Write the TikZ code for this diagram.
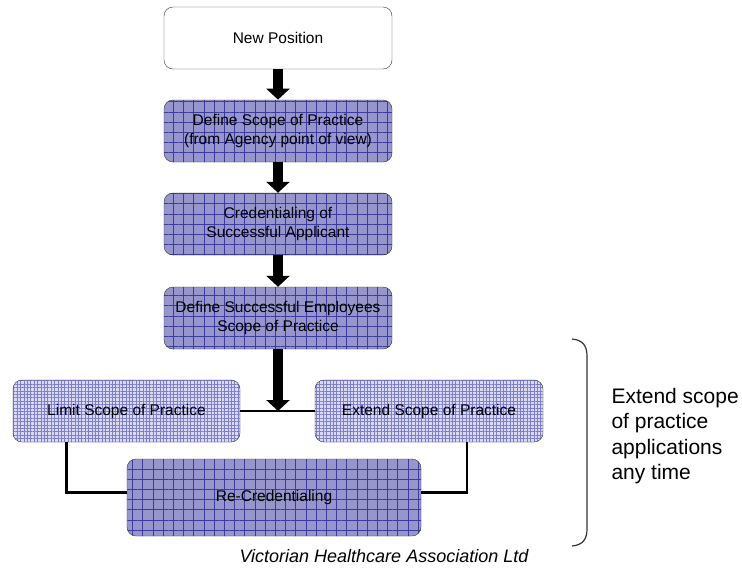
\documentclass[tikz,border=0pt]{standalone}
\usepackage{fontspec}
\setmainfont{Liberation Sans}
\usetikzlibrary{arrows.meta,patterns.meta}
\definecolor{gridfill}{RGB}{150,150,205}
\definecolor{gridline}{RGB}{60,60,160}
\definecolor{finefill}{RGB}{218,218,242}
\definecolor{fineline}{RGB}{125,125,205}

\begin{document}
\begin{tikzpicture}[x=1pt, y=-1pt,
        box/.style={draw=black!80, rounded corners=9pt, minimum width=228pt, minimum height=62pt,
            align=center, font=\fontsize{15.5}{19}\selectfont},
        gridbox/.style={box, preaction={fill=gridfill},
            pattern={Hatch[distance=10.2pt, angle=0, line width=0.7pt]}, pattern color=gridline},
        finebox/.style={box, preaction={fill=finefill},
            pattern={Hatch[distance=3.4pt, angle=0, line width=0.5pt]}, pattern color=fineline},
        bigarrow/.style={line width=10pt, -{Triangle[length=11pt, width=23pt]}},
        link/.style={line width=2.8pt}]
        \useasboundingbox (0, 0) rectangle (742, 571);

        \node[box, fill=white] (newpos) at (278, 38) {New Position};
        \node[gridbox] (agency) at (278, 131) {Define Scope of Practice\\(from Agency point of view)};
        \node[gridbox] (cred) at (278, 224) {Credentialing of\\Successful Applicant};
        \node[gridbox] (employee) at (278, 318) {Define Successful Employees\\Scope of Practice};
        \node[finebox, minimum width=227pt] (limit) at (126.5, 411) {Limit Scope of Practice};
        \node[finebox] (extend) at (429, 411) {Extend Scope of Practice};
        \node[gridbox, minimum width=294pt, minimum height=77pt] (recred) at (274, 497.5) {Re-Credentialing};

        \draw[bigarrow] (newpos) -- (agency);
        \draw[bigarrow] (agency) -- (cred);
        \draw[bigarrow] (cred) -- (employee);

        \coordinate (join) at (employee.south |- limit.east);
        \draw[link] (limit.east) -- (extend.west);
        \draw[bigarrow] (employee.south) -- (join);
        \draw[link] ([xshift=-60pt]limit.south) |- ([yshift=5pt]recred.west);
        \draw[link] ([xshift=38pt]extend.south) |- ([yshift=5pt]recred.east);

        % bracket on the right
        \draw[line width=1.2pt, black!80] (572, 339) .. controls (583, 340) and (587, 346) .. (587, 356)
            -- (587, 529) .. controls (587, 539) and (583, 545) .. (572, 546);
        \node[anchor=west, align=left, font=\fontsize{21}{25.5}\selectfont] (note) at (608, 436)
            {Extend scope\\of practice\\applications\\any time};

        \node[anchor=west, font=\fontsize{18}{21}\selectfont\itshape] (credit) at (236, 556)
            {Victorian Healthcare Association Ltd};
    \end{tikzpicture}
\end{document}
